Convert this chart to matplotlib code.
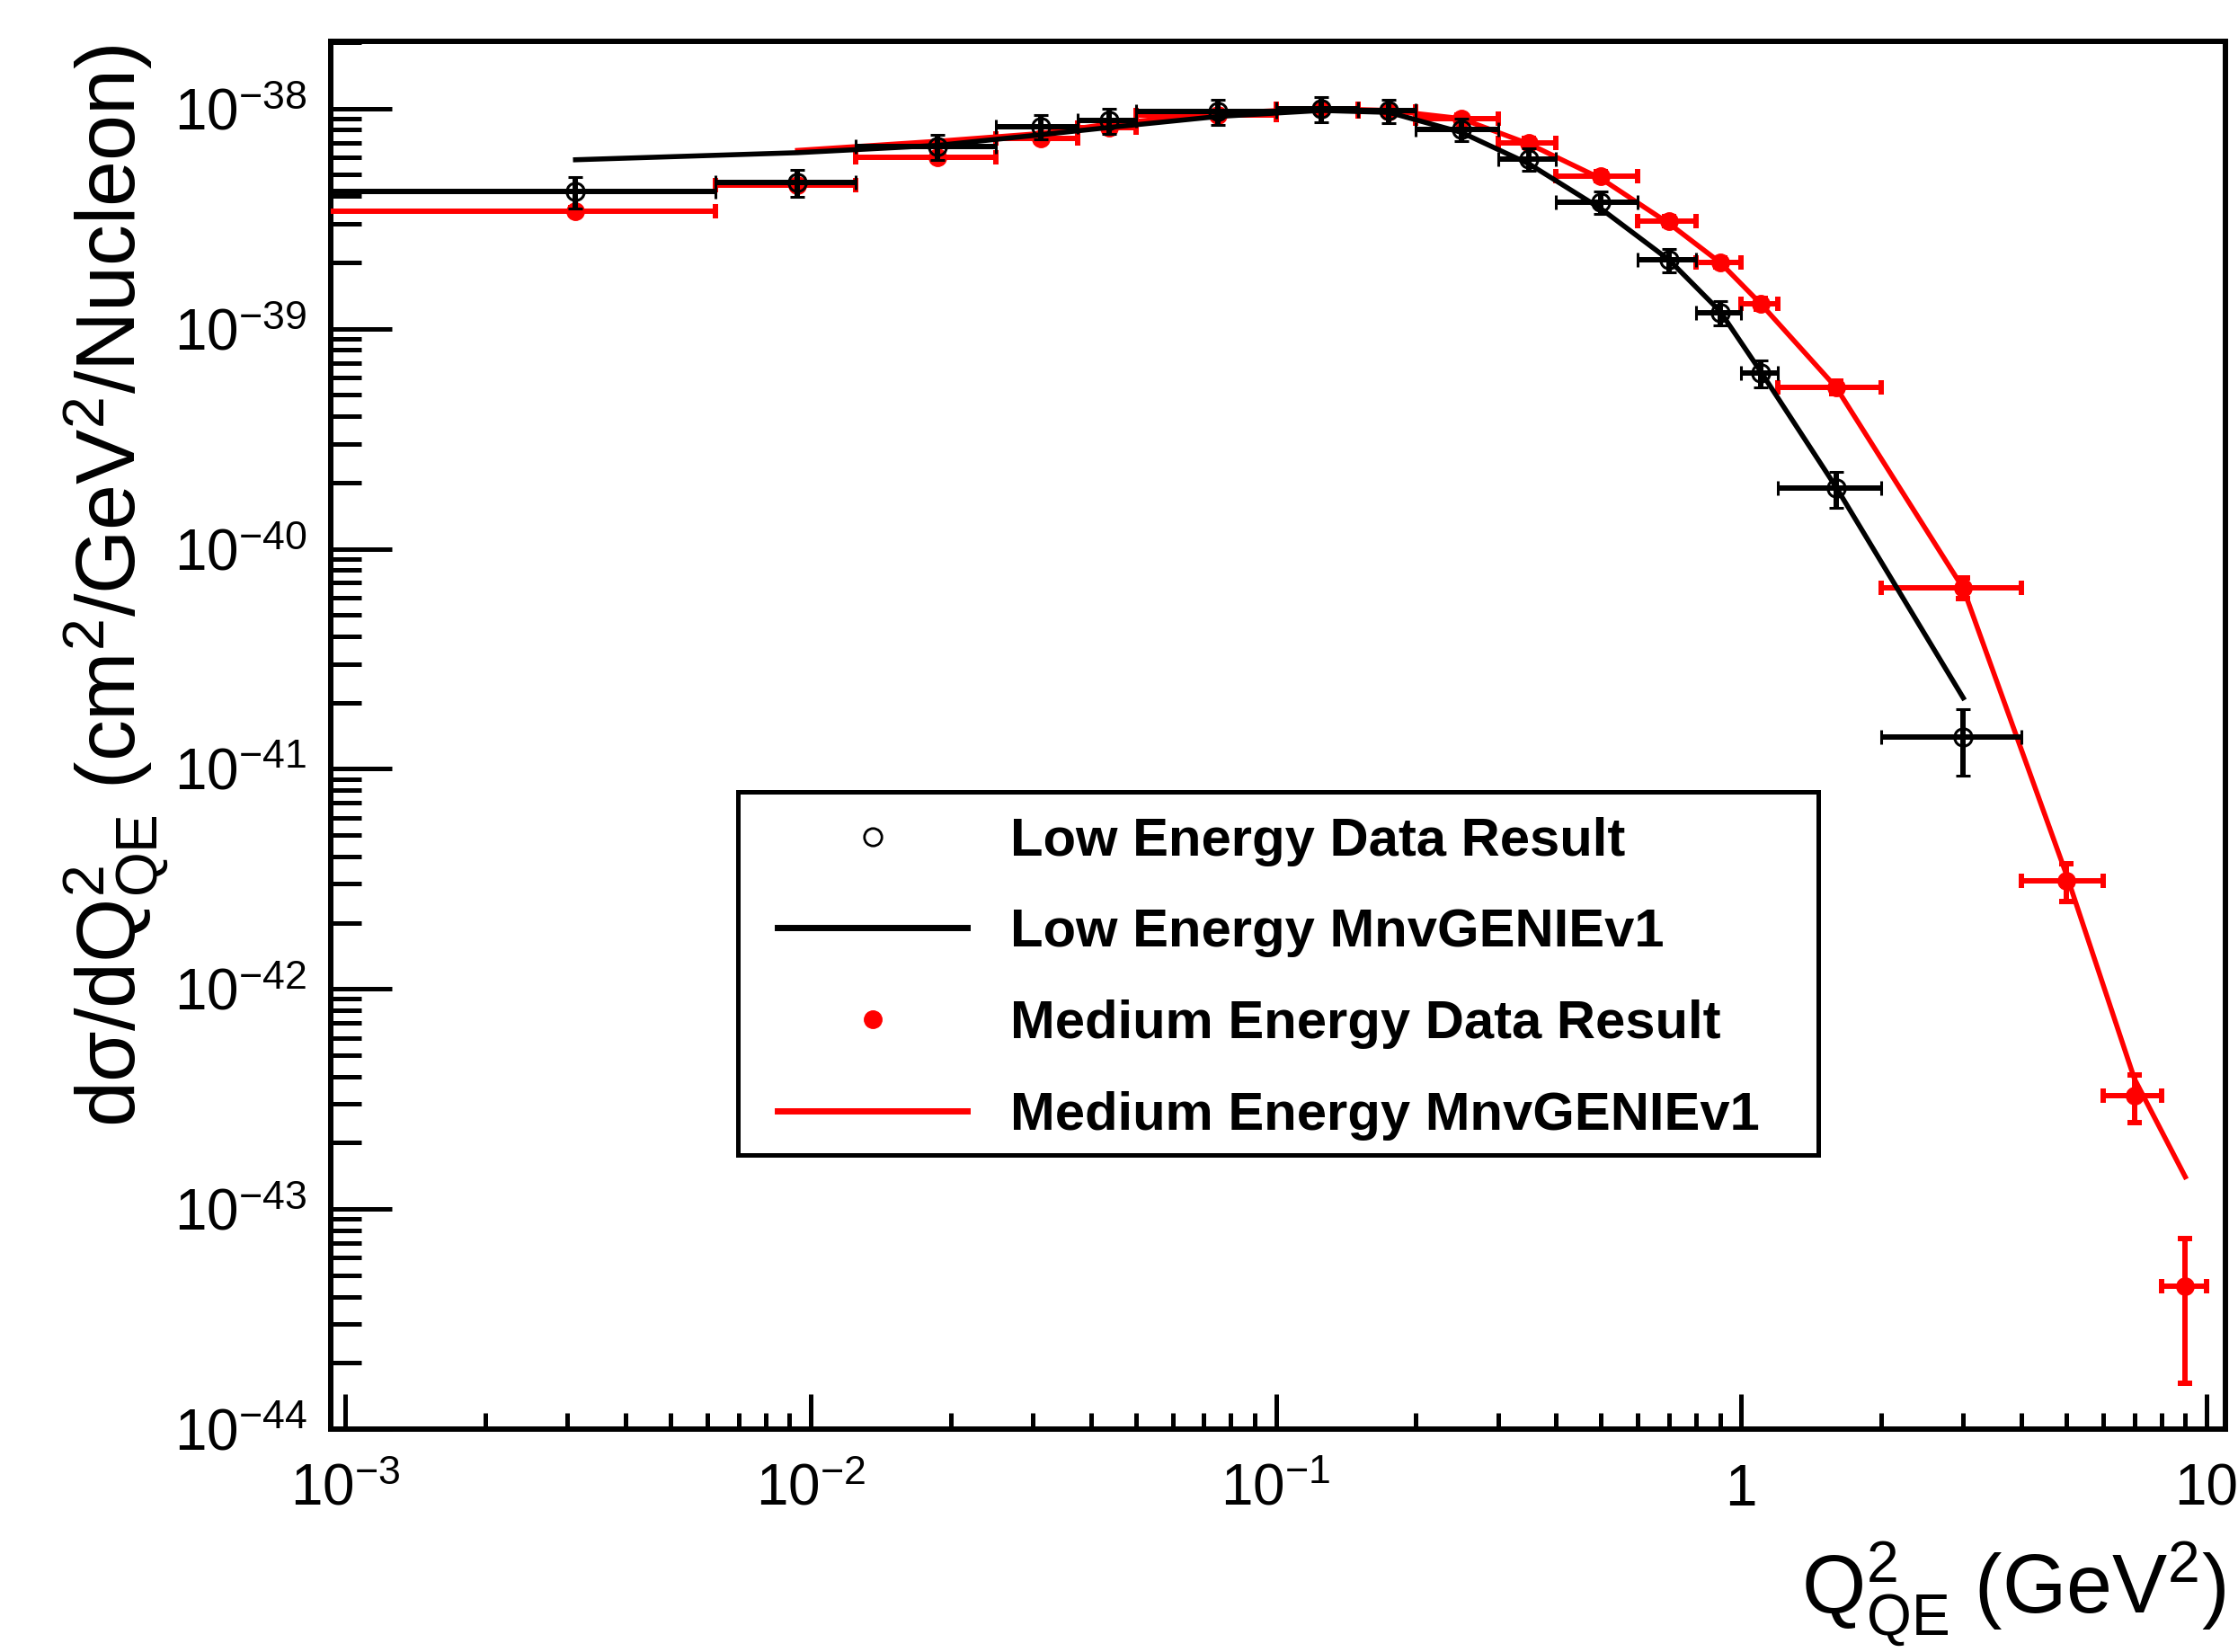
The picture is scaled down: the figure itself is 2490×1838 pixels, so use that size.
import numpy as np
import matplotlib
matplotlib.use('Agg')
import matplotlib.pyplot as plt
from matplotlib.lines import Line2D
from matplotlib.patches import Rectangle
from matplotlib.ticker import LogLocator, NullFormatter, FixedLocator, FixedFormatter

plt.rcParams['font.family'] = ['Liberation Sans', 'DejaVu Sans']
plt.rcParams['mathtext.fontset'] = 'custom'
plt.rcParams['mathtext.rm'] = 'Liberation Sans'
plt.rcParams['mathtext.it'] = 'Liberation Sans:italic'
plt.rcParams['mathtext.bf'] = 'Liberation Sans:bold'
plt.rcParams['mathtext.default'] = 'regular'

# Q2 binning (GeV^2)
bin_lo = [0.0, 0.00625, 0.0125, 0.025, 0.0375, 0.05, 0.1, 0.15, 0.2, 0.3,
          0.4, 0.6, 0.8, 1.0, 1.2, 2.0, 4.0, 6.0, 8.0]
bin_hi = [0.00625, 0.0125, 0.025, 0.0375, 0.05, 0.1, 0.15, 0.2, 0.3, 0.4,
          0.6, 0.8, 1.0, 1.2, 2.0, 4.0, 6.0, 8.0, 10.0]
q2_center = [0.003125, 0.009375, 0.01875, 0.03125, 0.04375, 0.075, 0.125, 0.175,
             0.25, 0.35, 0.5, 0.7, 0.9, 1.1, 1.6, 3.0, 5.0, 7.0, 9.0]

# low energy (16 bins)
le_data = [4.2e-39, 4.62e-39, 6.74e-39, 8.3e-39, 8.8e-39, 9.7e-39, 1.0e-38, 9.8e-39,
           8.05e-39, 5.9e-39, 3.76e-39, 2.06e-39, 1.18e-39, 6.3e-40, 1.89e-40, 1.40e-41]
le_err = [0.7e-39, 0.65e-39, 0.88e-39, 1.08e-39, 1.14e-39, 1.26e-39, 1.3e-39, 1.18e-39,
          0.97e-39, 0.71e-39, 0.45e-39, 0.25e-39, 0.15e-39, 0.88e-40, 0.35e-40, 0.47e-41]
le_mc = [5.85e-39, 6.3e-39, 6.8e-39, 7.6e-39, 8.2e-39, 9.2e-39, 9.8e-39, 9.6e-39,
         7.8e-39, 5.6e-39, 3.5e-39, 2.05e-39, 1.2e-39, 6.4e-40, 1.9e-40, 2.1e-41]

# medium energy (19 bins), MC starts at 2nd bin
me_data = [3.42e-39, 4.5e-39, 6.0e-39, 7.3e-39, 8.2e-39, 9.3e-39, 1.0e-38, 9.7e-39,
           9.0e-39, 7.0e-39, 4.94e-39, 3.08e-39, 2.0e-39, 1.3e-39, 5.42e-40, 6.65e-41,
           3.1e-42, 3.27e-43, 4.47e-44]
me_err = [0.12e-39, 0.15e-39, 0.2e-39, 0.25e-39, 0.3e-39, 0.3e-39, 0.35e-39, 0.35e-39,
          0.35e-39, 0.3e-39, 0.22e-39, 0.15e-39, 0.1e-39, 0.07e-39, 0.35e-40, 0.7e-41,
          0.6e-42, 0.8e-43, 2.85e-44]
me_mc = [6.45e-39, 7.1e-39, 7.7e-39, 8.5e-39, 9.5e-39, 1.0e-38, 9.8e-39, 9.0e-39,
         6.9e-39, 4.8e-39, 3.0e-39, 2.0e-39, 1.3e-39, 5.4e-40, 6.6e-41, 3.3e-42,
         3.9e-43, 1.4e-43]

xtick_vals = [1e-3, 1e-2, 1e-1, 1, 10]
xtick_labels = [r'$10^{-3}$', r'$10^{-2}$', r'$10^{-1}$', '1', '10']
ytick_vals = [1e-44, 1e-43, 1e-42, 1e-41, 1e-40, 1e-39, 1e-38]
ytick_labels = [r'$10^{-44}$', r'$10^{-43}$', r'$10^{-42}$', r'$10^{-41}$',
                r'$10^{-40}$', r'$10^{-39}$', r'$10^{-38}$']

legend_labels = ['Low Energy Data Result', 'Low Energy MnvGENIEv1',
                 'Medium Energy Data Result', 'Medium Energy MnvGENIEv1']

x = np.array(q2_center)
xlo = x - np.array(bin_lo)
xhi = np.array(bin_hi) - x
nle = len(le_data)

fig = plt.figure(figsize=(24.9, 18.38), dpi=100)
ax = fig.add_axes([0.1478, 0.1349, 0.8466, 0.8401])
ax.set_xscale('log', nonpositive='clip')
ax.set_yscale('log', nonpositive='clip')

lw_bar = 4.3
# medium energy first (drawn underneath)
ax.plot(x[1:], me_mc, color='red', lw=4, zorder=2)
ax.errorbar(x, me_data, xerr=[xlo, xhi], yerr=me_err, fmt='o', color='red',
            ms=14, elinewidth=lw_bar, capsize=6, capthick=lw_bar, zorder=3)
# low energy on top
ax.plot(x[:nle], le_mc, color='black', lw=4, zorder=4)
ax.errorbar(x[:nle], le_data, xerr=[xlo[:nle], xhi[:nle]], yerr=le_err, fmt='o',
            color='black', mfc='none', mec='black', mew=2.2, ms=14,
            elinewidth=lw_bar, capsize=6, capthick=lw_bar, zorder=5)

ax.set_xlim(9.31e-4, 10.98)
ax.set_ylim(1e-44, 2.02e-38)

ax.xaxis.set_major_locator(FixedLocator(xtick_vals))
ax.xaxis.set_major_formatter(FixedFormatter(xtick_labels))
ax.xaxis.set_minor_locator(LogLocator(base=10, subs=np.arange(2, 10), numticks=100))
ax.xaxis.set_minor_formatter(NullFormatter())
ax.yaxis.set_major_locator(FixedLocator(ytick_vals))
ax.yaxis.set_major_formatter(FixedFormatter(ytick_labels))
ax.yaxis.set_minor_locator(LogLocator(base=10, subs=np.arange(2, 10), numticks=100))
ax.yaxis.set_minor_formatter(NullFormatter())

ax.tick_params(axis='x', which='major', direction='in', length=28, width=3.6,
               pad=27, labelsize=46, top=False)
ax.tick_params(axis='x', which='minor', direction='in', length=13, width=3.6, top=False)
ax.tick_params(axis='y', which='major', direction='in', length=49, width=3.6,
               pad=19, labelsize=46, right=False)
ax.tick_params(axis='y', which='minor', direction='in', length=24.5, width=3.6, right=False)
for s in ax.spines.values():
    s.set_linewidth(4.3)

ax.set_xlabel(r'$Q^{2}_{QE}$ (GeV$^{2}$)', fontsize=66, loc='right')
ax.xaxis.set_label_coords(1.0, -0.080)
ax.set_ylabel(r'd$\sigma$/d$Q^{2}_{QE}$ (cm$^{2}$/GeV$^{2}$/Nucleon)', fontsize=66, loc='top')
ax.yaxis.set_label_coords(-0.0844, 0.998)

handles = [
    Line2D([], [], ls='none', marker='o', ms=14, mfc='none', mec='black', mew=2),
    Line2D([], [], color='black', lw=5),
    Line2D([], [], ls='none', marker='o', ms=14, color='red'),
    Line2D([], [], color='red', lw=5),
]
ax.add_patch(Rectangle((0.2149, 0.1975), 0.5702, 0.2617, transform=ax.transAxes,
                       facecolor='white', edgecolor='black', lw=3.6, zorder=7))
leg = ax.legend(handles, legend_labels, loc='upper left', bbox_to_anchor=(0.2358, 0.4412),
                frameon=False, borderpad=0, borderaxespad=0, handlelength=3.53,
                handletextpad=0.8, labelspacing=0.78, prop={'size': 43, 'weight': 'bold'})
leg.set_zorder(8)

fig.savefig('out.png', dpi=100)
